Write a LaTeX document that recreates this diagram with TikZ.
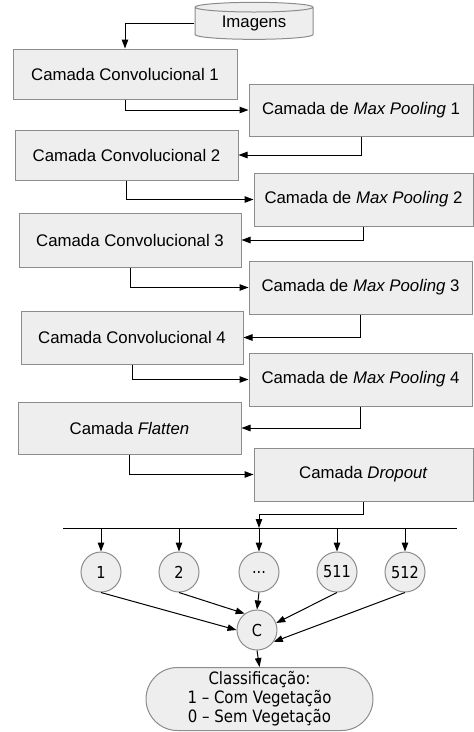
\documentclass[tikz,border=0pt]{standalone}
\usepackage{fontspec}
\setmainfont{Liberation Sans}
\newfontfamily\dvfont[FakeStretch=0.88]{DejaVu Sans}
\usetikzlibrary{arrows.meta, shapes.geometric, shapes.misc}
\definecolor{cfill}{HTML}{EEEEEE}
\definecolor{cline}{HTML}{8C8C8C}
\tikzset{
  every picture/.style={line width=1pt},
  box/.style={draw=cline, fill=cfill, inner sep=0pt, minimum width=#1, minimum height=52pt, font=\fontsize{16.8}{20}\selectfont},
  box/.default=223pt,
  neuron/.style={circle, draw=cline, fill=cfill, inner sep=0pt, minimum size=40pt, font=\dvfont\fontsize{16.5}{19}\selectfont},
  arrow/.style={-{Triangle[length=9pt, width=6.5pt]}, draw=black},
}

\begin{document}
\begin{tikzpicture}[x=1pt, y=-1pt]
  \useasboundingbox (0,0) rectangle (474,732);
  \node[cylinder, shape border rotate=90, aspect=0.15, draw=cline, fill=cfill, minimum width=118pt, minimum height=37pt, inner sep=0pt, font=\fontsize{16.8}{20}\selectfont] (img) at (254,23.5) {Imagens};
  % layers
  \node[box=224pt, minimum height=50pt] (conv1) at (125,74) {Camada Convolucional 1};
  \node[box=224pt] (pool1) at (361,110) {Camada de \textit{Max Pooling} 1};
  \node[box, minimum height=50pt] (conv2) at (126.5,155) {Camada Convolucional 2};
  \node[box=219pt, minimum height=53pt] (pool2) at (363.5,199.5) {Camada de \textit{Max Pooling} 2};
  \node[box=222pt, minimum height=54pt] (conv3) at (130,240) {Camada Convolucional 3};
  \node[box, minimum height=53pt] (pool3) at (360.5,287.5) {Camada de \textit{Max Pooling} 3};
  \node[box=222pt, minimum height=53pt] (conv4) at (132,337.5) {Camada Convolucional 4};
  \node[box, minimum height=53pt] (pool4) at (360.5,379.5) {Camada de \textit{Max Pooling} 4};
  \node[box] (flat) at (129.5,428) {Camada \textit{Flatten}};
  \node[box=219pt, minimum height=53pt] (drop) at (363.5,474.5) {Camada \textit{Dropout}};
  \draw[arrow] (img.west) -| (conv1.north);
  \draw[arrow] (conv1.south) |- (pool1.west);
  \draw[arrow] (pool1.south) |- (conv2.east);
  \draw[arrow] (conv2.south) |- (pool2.west);
  \draw[arrow] (pool2.south) |- (conv3.east);
  \draw[arrow] (conv3.south) |- (pool3.west);
  \draw[arrow] (pool3.south) |- (conv4.east);
  \draw[arrow] (conv4.south) |- (pool4.west);
  \draw[arrow] (pool4.south) |- (flat.east);
  \draw[arrow] (flat.south) |- (drop.west);
  % dense layer
  \coordinate (busL) at (63,528);
  \coordinate (busR) at (457,528);
  \coordinate (bus) at (259,528);
  \coordinate (turn) at (259,514);
  \draw (busL) -- (busR);
  \draw[arrow] (drop.south) |- (turn) -- (bus);
  \foreach \nm/\x/\lbl in {n1/101/1, n2/179/2, nd/259/{...}, n511/337/511, n512/405/512} {
    \node[neuron] (\nm) at (\x,572) {\lbl};
    \draw[arrow] (\nm |- busL) -- (\nm.north);
  }
  \node[neuron] (cc) at (257,630) {C};
  \draw[arrow] (n1.south) -- (cc.west);
  \draw[arrow] (n2.south) -- (cc.127);
  \draw[arrow] (nd.south) -- (cc.north);
  \draw[arrow] (n511.south) -- (cc.20);
  \draw[arrow] (n512.south) -- (cc.-35);
  \node[rounded rectangle, draw=cline, fill=cfill, minimum width=227pt, minimum height=63pt, inner sep=0pt, align=center, font=\dvfont\fontsize{17}{19}\selectfont] (cls) at (259.5,699) {Classificação:\\1 – Com Vegetação\\0 – Sem Vegetação};
  \draw[arrow] (cc.south) -- (cls.north);
\end{tikzpicture}
\end{document}
